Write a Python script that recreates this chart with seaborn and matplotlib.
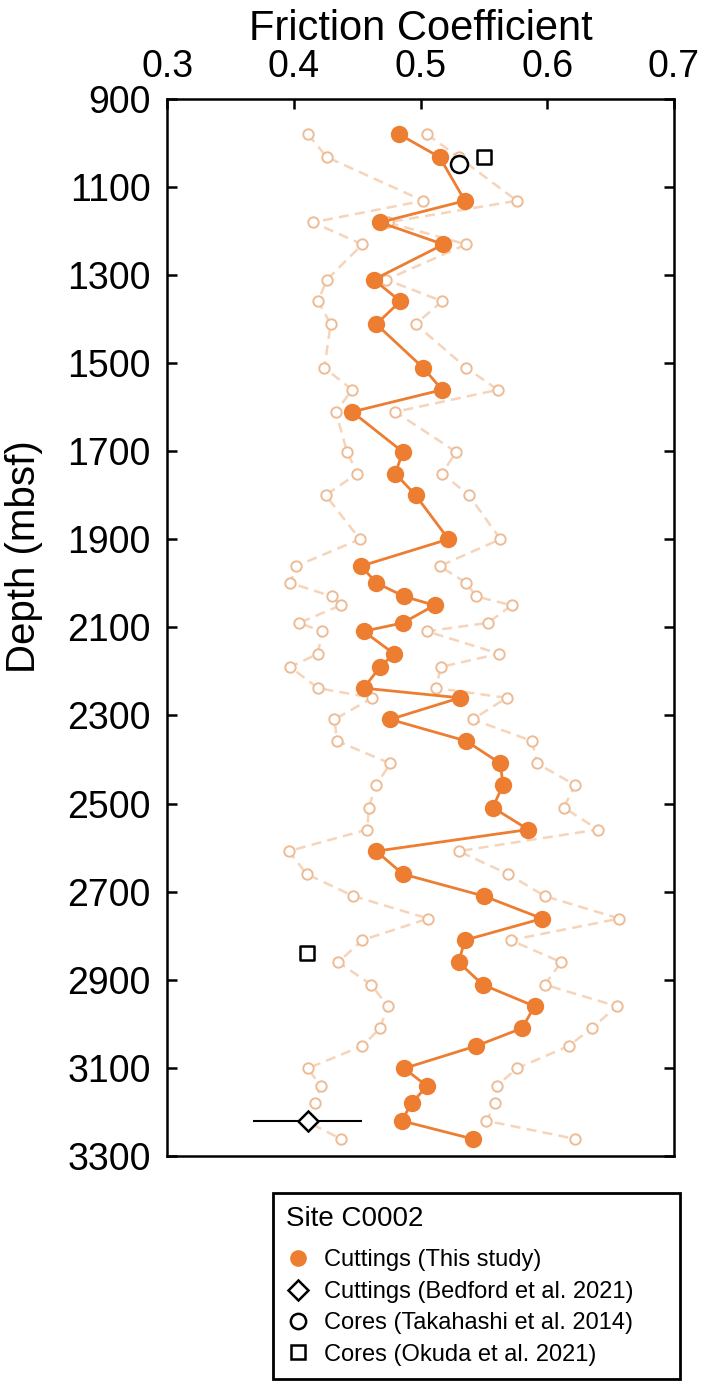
import matplotlib
matplotlib.use("Agg")
import matplotlib.pyplot as plt
import seaborn as sns
import pandas as pd
from matplotlib.lines import Line2D

# ---------------- data ----------------
depth = [981, 1033, 1132, 1181, 1231, 1311, 1360, 1412, 1511, 1561, 1611, 1702,
         1751, 1800, 1900, 1961, 1999, 2030, 2050, 2090, 2109, 2160, 2190, 2238,
         2260, 2309, 2358, 2409, 2458, 2509, 2559, 2608, 2660, 2710, 2761, 2810,
         2860, 2911, 2960, 3010, 3050, 3101, 3141, 3180, 3220, 3261]

friction = [0.483, 0.515, 0.535, 0.468, 0.518, 0.463, 0.484, 0.465, 0.502, 0.517,
            0.446, 0.486, 0.480, 0.496, 0.522, 0.453, 0.465, 0.487, 0.511, 0.486,
            0.455, 0.479, 0.468, 0.455, 0.531, 0.476, 0.536, 0.563, 0.565, 0.557,
            0.585, 0.465, 0.486, 0.550, 0.596, 0.535, 0.530, 0.549, 0.590, 0.580,
            0.544, 0.487, 0.505, 0.493, 0.485, 0.541]

friction_low = [0.411, 0.426, 0.502, 0.415, 0.454, 0.426, 0.419, 0.429, 0.424, 0.446,
                0.433, 0.442, 0.450, 0.425, 0.452, 0.402, 0.397, 0.430, 0.437, 0.404,
                0.422, 0.419, 0.397, 0.419, 0.462, 0.432, 0.434, 0.476, 0.465, 0.459,
                0.458, 0.396, 0.410, 0.447, 0.506, 0.454, 0.435, 0.461, 0.474, 0.468,
                0.454, 0.411, 0.421, 0.417, 0.409, 0.437]

friction_high = [0.505, 0.530, 0.576, 0.474, 0.536, 0.473, 0.517, 0.496, 0.536, 0.561,
                 0.480, 0.528, 0.517, 0.538, 0.563, 0.515, 0.536, 0.544, 0.572, 0.553,
                 0.505, 0.562, 0.516, 0.512, 0.568, 0.541, 0.588, 0.592, 0.622, 0.613,
                 0.640, 0.530, 0.569, 0.598, 0.657, 0.571, 0.611, 0.598, 0.655, 0.635,
                 0.617, 0.576, 0.560, 0.559, 0.552, 0.622]

bedford_friction = [0.411]
bedford_err = [0.043]
bedford_depth = [3221]

takahashi_friction = [0.530]
takahashi_depth = [1049]

okuda_friction = [0.550, 0.410]
okuda_depth = [1033, 2839]

legend_labels = ["Cuttings (This study)", "Cuttings (Bedford et al. 2021)",
                 "Cores (Takahashi et al. 2014)", "Cores (Okuda et al. 2021)"]

# ---------------- style ----------------
sns.set_style("ticks")
plt.rcParams["font.family"] = ["Liberation Sans", "DejaVu Sans"]
for k in ["text.color", "axes.labelcolor", "xtick.color", "ytick.color",
          "axes.edgecolor"]:
    plt.rcParams[k] = "black"

ORANGE = "#ED7D31"
LIGHT_LINE = "#F6D4BA"
LIGHT_EDGE = "#ECBC96"

fig = plt.figure(figsize=(7.1, 13.88), dpi=100)
ax = fig.add_axes([0.2356, 0.1671, 0.7136, 0.7619])

df = pd.DataFrame({"depth": depth, "mu": friction,
                   "lo": friction_low, "hi": friction_high})

for col in ["lo", "hi"]:
    sns.lineplot(data=df, x=col, y="depth", sort=False, estimator=None, ax=ax,
                 color=LIGHT_LINE, linestyle=(0, (4, 2.5)), linewidth=1.8,
                 marker="o", markersize=7.5, markerfacecolor="white",
                 markeredgecolor=LIGHT_EDGE, markeredgewidth=1.4, zorder=2)

sns.lineplot(data=df, x="mu", y="depth", sort=False, estimator=None, ax=ax,
             color=ORANGE, linewidth=2.0, marker="o", markersize=12.5,
             markeredgewidth=0, zorder=3)

ax.errorbar(bedford_friction, bedford_depth, xerr=bedford_err, fmt="D",
            color="black", ecolor="black", elinewidth=1.5, capsize=0,
            markersize=10, markerfacecolor="white", markeredgewidth=1.8,
            markeredgecolor="black", zorder=5)
sns.scatterplot(x=takahashi_friction, y=takahashi_depth, ax=ax, marker="o",
                s=150, facecolor="white", edgecolor="black", linewidth=1.8, zorder=5)
sns.scatterplot(x=okuda_friction, y=okuda_depth, ax=ax, marker="s",
                s=110, facecolor="white", edgecolor="black", linewidth=1.8, zorder=5)

ax.set_xlim(0.3, 0.7)
ax.set_ylim(3300, 900)
ax.set_xticks([0.3, 0.4, 0.5, 0.6, 0.7])
ax.set_xticklabels(["0.3", "0.4", "0.5", "0.6", "0.7"])
ax.set_yticks(range(900, 3301, 200))
ax.xaxis.set_ticks_position("top")
ax.xaxis.set_label_position("top")
ax.tick_params(axis="x", direction="in", length=7, width=1.8, labelsize=27, pad=10,
               top=True, bottom=False)
ax.tick_params(axis="y", direction="in", length=7, width=1.8, labelsize=27, pad=12,
               left=True, right=True)
ax.set_xlabel("Friction Coefficient", fontsize=30, labelpad=6)
ax.set_ylabel("Depth (mbsf)", fontsize=29)
ax.yaxis.set_label_coords(-0.245, 0.567)
for s in ax.spines.values():
    s.set_visible(True)
    s.set_linewidth(1.8)
    s.set_color("black")

handles = [
    Line2D([], [], linestyle="none", marker="o", markersize=12,
           markerfacecolor=ORANGE, markeredgewidth=0),
    Line2D([], [], linestyle="none", marker="D", markersize=10,
           markerfacecolor="white", markeredgecolor="black", markeredgewidth=1.8),
    Line2D([], [], linestyle="none", marker="o", markersize=11,
           markerfacecolor="white", markeredgecolor="black", markeredgewidth=1.8),
    Line2D([], [], linestyle="none", marker="s", markersize=10,
           markerfacecolor="white", markeredgecolor="black", markeredgewidth=1.8),
]
leg = fig.legend(handles, legend_labels, loc="upper left",
                 bbox_to_anchor=(273 / 710, 1 - 1193 / 1388, (680 - 273) / 710, 0),
                 mode="expand",
                 title="Site C0002", alignment="left", fontsize=17,
                 title_fontsize=20, frameon=True, fancybox=False,
                 edgecolor="black", framealpha=1, borderaxespad=0,
                 handletextpad=0.6, handlelength=1.0, labelspacing=0.4,
                 borderpad=0.55)
leg._legend_box.sep = 12.5
leg.get_frame().set_linewidth(2.0)

fig.savefig("out.png", dpi=100)
